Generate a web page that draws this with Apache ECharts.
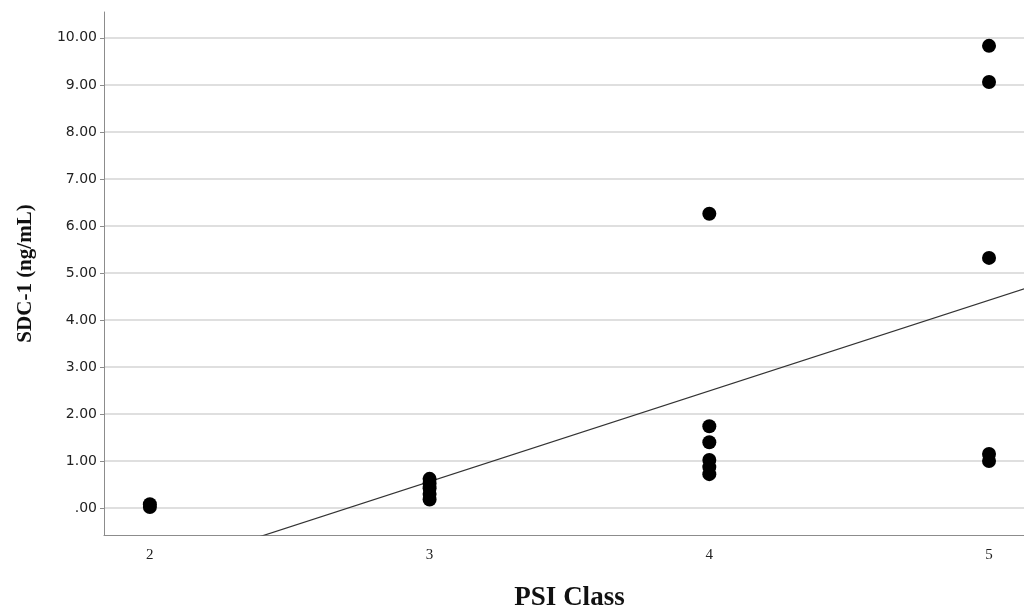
<!DOCTYPE html>
<html><head><meta charset="utf-8">
<script src="https://cdn.jsdelivr.net/npm/echarts@6/dist/echarts.min.js"></script>
<style>html,body{margin:0;padding:0;background:#fff}#c{width:1024px;height:610px}</style>
</head><body><div id="c"></div>
<script>
// PSI class (x) and SDC-1 (ng/mL) values
const class2 = [0.08, 0.02];
const class3 = [0.62, 0.52, 0.42, 0.30, 0.18];
const class4 = [6.26, 1.74, 1.40, 1.02, 0.87, 0.72];
const class5 = [9.83, 9.06, 5.32, 1.15, 1.00];
const classes = [2, 3, 4, 5];
const fitX = [2.0, 5.2];
const fitY = [-1.367, 4.806];
const yTicks = [0,1,2,3,4,5,6,7,8,9,10];
const xTicks = [2,3,4,5];

const groups = [class2, class3, class4, class5];
const points = [];
groups.forEach((g, i) => g.forEach(v => points.push([classes[i], v])));
const fitLine = fitX.map((x, i) => [x, fitY[i]]);

const chart = echarts.init(document.getElementById('c'));
chart.setOption({
  animation: false,
  grid: {left: 104, right: 0, top: 12, bottom: 75, outerBoundsMode: 'none', containLabel: false},
  xAxis: {
    type: 'value', min: 1.836, max: 5.125,
    axisLine: {show: true, onZero: false, lineStyle: {color: '#8c8c8c', width: 1}},
    axisTick: {show: false, customValues: xTicks},
    splitLine: {show: false},
    axisLabel: {customValues: xTicks, color: '#222', fontFamily: 'Liberation Serif', fontSize: 15, margin: 13},
    name: 'PSI Class', nameLocation: 'middle', nameGap: 50,
    nameTextStyle: {fontFamily: 'Liberation Serif', fontWeight: 'bold', fontSize: 27, color: '#111', padding: [0, 0, 0, 11]}
  },
  yAxis: {
    type: 'value', min: -0.574, max: 10.55,
    axisLine: {show: true, onZero: false, lineStyle: {color: '#8c8c8c', width: 1}},
    axisTick: {show: true, customValues: yTicks, length: 4, inside: false, lineStyle: {color: '#8c8c8c'}},
    splitLine: {show: true, lineStyle: {color: '#d4d4d4', width: 1.5}},
    axisLabel: {customValues: yTicks, color: '#222', fontFamily: 'DejaVu Sans', fontSize: 14, margin: 7,
      formatter: v => v === 0 ? '.00' : v.toFixed(2)},
    name: 'SDC-1 (ng/mL)', nameLocation: 'middle', nameGap: 68, nameRotate: 90,
    nameTextStyle: {fontFamily: 'Liberation Serif', fontWeight: 'bold', fontSize: 21, color: '#111'}
  },
  series: [
    {type: 'line', data: fitLine, symbol: 'none', clip: true, lineStyle: {color: '#333', width: 1.2}, z: 2},
    {type: 'scatter', data: points, symbolSize: 14, itemStyle: {color: '#000', opacity: 1}, z: 3}
  ]
});
</script></body></html>
